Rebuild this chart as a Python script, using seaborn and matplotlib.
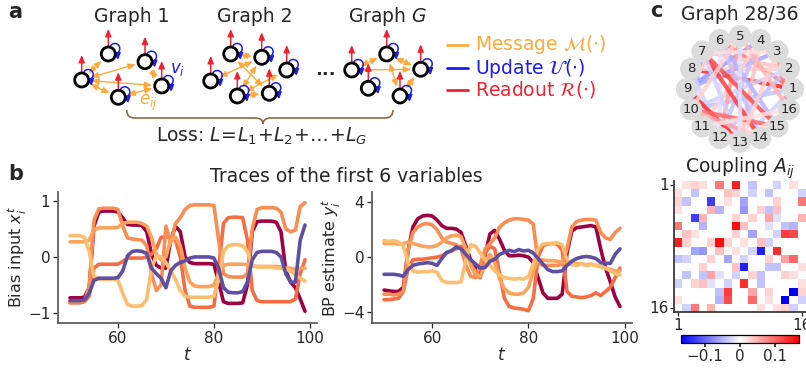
import numpy as np
import pandas as pd
import matplotlib
matplotlib.use("Agg")
import matplotlib.pyplot as plt
import seaborn as sns
from matplotlib.patches import Circle, FancyArrowPatch, PathPatch
from matplotlib.path import Path
from matplotlib.colors import Normalize

sns.set_theme(style="ticks")
plt.rcParams['font.family'] = ['DejaVu Sans']
plt.rcParams['mathtext.fontset'] = 'dejavusans'

# ---------------- data ----------------
t_steps = list(range(50, 100))
series_names = ["v1", "v2", "v3", "v4", "v5", "v6"]
series_colors = ["#9e0142", "#f46d43", "#f88e53", "#fba35c", "#fdbf6f", "#5e4fa2"]

# Bias input x_i^t
x_v1 = [-0.73,-0.73,-0.73,-0.72,-0.55,0.55,0.80,0.82,0.82,0.82,0.80,0.70,0.58,0.57,0.57,0.56,0.45,0.05,-0.15,-0.20,
        -0.20,0.30,0.55,0.45,0.00,-0.10,-0.12,-0.12,-0.12,-0.12,-0.13,-0.45,-0.80,-0.83,-0.83,-0.83,-0.82,-0.50,0.45,0.63,
        0.64,0.64,0.64,0.62,0.45,-0.25,-0.45,-0.55,-0.75,-0.97]
x_v2 = [-0.82,-0.82,-0.82,-0.80,-0.70,-0.20,-0.13,-0.13,-0.13,-0.13,-0.13,-0.08,-0.02,-0.02,-0.02,-0.02,0.00,0.05,0.15,0.35,
        0.36,0.35,0.30,0.00,-0.60,-0.88,-0.90,-0.90,-0.90,-0.90,-0.88,-0.20,0.60,0.70,0.71,0.71,0.70,0.30,-0.60,-0.78,
        -0.80,-0.80,-0.80,-0.80,-0.80,-0.80,-0.80,-0.75,-0.30,-0.05]
x_v3 = [-0.80,-0.80,-0.80,-0.79,-0.55,0.65,0.86,0.87,0.87,0.87,0.85,0.55,0.34,0.32,0.31,0.30,0.20,-0.30,-0.60,-0.50,
        0.55,0.25,0.60,0.70,0.85,0.92,0.93,0.93,0.93,0.93,0.92,0.30,-0.30,-0.35,-0.36,-0.36,-0.36,-0.30,0.50,0.85,
        0.88,0.88,0.88,0.87,0.80,0.50,0.45,0.48,0.90,0.97]
x_v4 = [0.27,0.27,0.27,0.27,0.30,0.48,0.52,0.52,0.52,0.52,0.53,0.60,0.62,0.62,0.62,0.60,0.55,0.35,0.05,-0.05,
        0.00,0.30,0.35,0.20,-0.20,-0.45,-0.52,-0.53,-0.53,-0.53,-0.50,-0.30,-0.15,-0.13,-0.13,-0.13,-0.13,-0.14,-0.16,-0.17,
        -0.17,-0.17,-0.17,-0.17,-0.18,-0.20,-0.20,-0.22,-0.20,-0.20]
x_v5 = [0.38,0.38,0.38,0.35,0.10,-0.35,-0.40,-0.40,-0.40,-0.40,-0.42,-0.65,-0.85,-0.88,-0.88,-0.87,-0.75,-0.20,0.02,0.00,
        -0.10,-0.25,-0.40,-0.60,-0.70,-0.72,-0.72,-0.72,-0.72,-0.72,-0.70,-0.40,0.10,0.20,0.22,0.22,0.20,0.10,-0.15,-0.18,
        -0.18,-0.18,-0.18,-0.20,-0.20,-0.22,-0.25,-0.32,-0.38,-0.43]
x_v6 = [-0.78,-0.78,-0.78,-0.77,-0.65,-0.42,-0.38,-0.38,-0.38,-0.38,-0.37,-0.25,0.02,0.10,0.11,0.10,0.06,-0.20,-0.30,-0.38,
        -0.55,-0.25,-0.15,-0.10,-0.07,-0.02,0.00,0.00,0.00,0.00,-0.02,-0.20,-0.55,-0.63,-0.64,-0.64,-0.62,-0.45,-0.05,0.08,
        0.10,0.10,0.10,0.08,0.00,-0.30,-0.45,-0.45,0.30,0.57]

# BP estimate y_i^t
y_v1 = [-2.40,-2.45,-2.50,-2.50,-2.20,0.50,2.20,2.80,3.00,3.05,3.00,2.70,2.30,2.10,2.10,2.05,1.80,0.80,-0.20,-0.60,
        -1.20,0.20,1.70,1.95,1.30,0.50,0.10,0.10,0.15,0.10,0.00,-0.40,-1.50,-2.60,-3.00,-3.00,-3.00,-2.70,0.30,1.90,
        2.15,2.20,2.25,2.30,2.20,0.60,-0.80,-1.80,-2.90,-3.60]
y_v2 = [-3.10,-3.10,-3.05,-3.00,-2.50,-0.80,-0.20,-0.15,-0.15,-0.10,-0.05,0.00,0.10,0.30,0.50,0.60,0.80,0.40,-0.40,-1.30,
        -1.50,0.30,0.80,0.60,-1.20,-3.00,-3.60,-3.70,-3.75,-3.80,-3.90,-3.00,0.00,0.85,0.95,1.00,0.95,0.50,-2.50,-2.85,
        -2.90,-2.95,-2.90,-2.80,-2.60,-2.80,-2.50,-2.20,-1.50,-0.80]
y_v3 = [-2.70,-2.70,-2.75,-2.70,-2.50,0.50,1.80,2.20,2.40,2.45,2.35,2.00,1.40,1.10,1.00,0.90,0.60,-0.60,-1.40,-1.50,
        -0.50,0.60,1.00,1.40,2.20,2.50,2.70,2.80,2.80,2.75,2.70,2.40,-0.40,-0.60,-0.60,-0.60,-0.60,-0.50,0.60,2.20,
        2.60,2.70,2.75,2.75,2.70,1.80,1.40,1.30,1.80,2.10]
y_v4 = [1.00,1.00,1.00,0.95,1.00,1.10,1.00,0.90,0.80,0.75,0.75,0.85,1.10,1.40,1.55,1.60,1.50,0.60,-0.60,-1.30,
        -1.40,-0.60,0.20,-0.40,-1.60,-2.30,-2.60,-2.70,-2.70,-2.60,-2.20,-1.00,-0.20,-0.20,-0.25,-0.25,-0.30,-0.35,-0.50,-0.50,
        -0.45,-0.50,-0.55,-0.50,-0.60,-0.70,-0.80,-0.90,-1.00,-1.00]
y_v5 = [1.20,1.15,1.20,1.10,0.80,-0.40,-1.00,-1.10,-1.05,-1.05,-1.00,-1.10,-1.70,-1.85,-1.85,-1.85,-1.80,-0.20,0.90,0.80,
        0.30,-0.20,-0.60,-1.00,-1.30,-1.50,-1.55,-1.60,-1.55,-1.60,-1.40,-0.50,0.60,0.95,1.00,1.00,1.05,0.90,-0.20,-0.55,
        -0.60,-0.50,-0.60,-0.55,-0.60,-0.65,-0.80,-1.00,-1.20,-1.30]
y_v6 = [-1.25,-1.25,-1.25,-1.30,-1.40,-0.90,-0.60,-0.50,-0.45,-0.40,-0.45,-0.60,-0.10,0.35,0.45,0.75,0.60,0.20,-0.20,-0.50,
        -0.80,-0.75,-0.30,-0.15,0.20,0.35,0.50,0.40,0.55,0.45,0.50,0.30,-0.10,-0.50,-0.90,-1.05,-1.05,-1.00,-0.60,-0.30,
        -0.10,0.00,0.05,0.00,-0.10,-0.40,-0.45,-0.45,0.20,0.60]

# Coupling matrix (upper triangle, 0-based indices)
pair_i = [0,0,0,0,0,0,0,0,1,1,1,1,1,1,2,2,2,3,3,3,3,3,3,4,4,4,5,5,5,5,5,6,6,6,6,6,7,7,7,8,8,8,9,9,9,10,10,10,11,11,12,13,13,14,2,2,4,4]
pair_j = [1,2,3,5,7,9,12,14,2,9,11,15,6,7,4,8,15,4,5,8,11,10,12,15,11,7,7,13,14,8,11,9,13,14,7,12,8,10,11,10,12,9,14,13,11,11,12,15,13,14,15,14,15,15,6,12,9,12]
pair_w = [0.02,0.03,0.02,0.09,0.15,-0.04,-0.03,0.02,-0.04,-0.03,-0.04,-0.03,0.04,0.03,-0.13,-0.06,0.09,0.05,-0.05,-0.07,-0.04,0.03,0.04,0.05,0.06,0.03,0.16,-0.04,-0.05,0.04,-0.02,-0.06,0.13,0.12,0.03,-0.03,0.02,0.04,-0.03,-0.15,0.14,-0.03,0.10,0.06,0.03,-0.04,-0.04,0.02,0.03,0.02,0.02,-0.17,0.03,-0.03,0.02,0.03,0.03,-0.02]
n_vars = 16
graph_title = "Graph 28/36"

# ---------------- figure ----------------
W, H = 806, 368
fig = plt.figure(figsize=(W / 100, H / 100), dpi=100)

ov = fig.add_axes([0, 0, 1, 1], zorder=-1)
ov.set_xlim(0, W)
ov.set_ylim(H, 0)
ov.axis("off")

C_MSG = "#fdaa3a"
C_UPD = "#1c1cf0"
C_RD = "#ee2233"

# ---- panel a ----
ov.text(8, 12, "a", fontsize=15, fontweight="bold", ha="left", va="center")
graphs = [
    ("Graph 1", 132, [(81.7, 80), (108.3, 54), (145, 61.7), (118.3, 97.3), (161.7, 86)],
     [(0, 1), (0, 2), (0, 4), (0, 3), (3, 4), (2, 4)]),
    ("Graph 2", 254.5, [(210.7, 81), (230.7, 54), (261.7, 57.3), (286.7, 70), (237.3, 96), (269.3, 93.3)],
     [(0, 2), (1, 2), (1, 5), (4, 2), (4, 3), (4, 5)]),
    ("Graph $G$", 388, [(351.7, 70), (386.7, 54), (368.3, 88.3), (400, 96), (420.7, 69.3)],
     [(0, 1), (0, 4), (1, 3), (3, 4), (1, 4)]),
]
for title, cx, nodes, edges in graphs:
    ov.text(cx, 16, title, fontsize=13.5, ha="center", va="center")
    for a, b in edges:
        ov.annotate("", xy=nodes[b], xytext=nodes[a],
                    arrowprops=dict(arrowstyle="<|-|>,head_length=0.35,head_width=0.15", color=C_MSG,
                                    lw=1.0, shrinkA=7, shrinkB=7))
    for (x, y) in nodes:
        ov.annotate("", xy=(x, y - 25), xytext=(x, y - 7.5),
                    arrowprops=dict(arrowstyle="-|>,head_length=0.35,head_width=0.15", color=C_RD,
                                    lw=1.1, shrinkA=0, shrinkB=0))
        cxl, cyl, r = x + 6.5, y - 5.5, 5.0
        th = np.deg2rad(np.linspace(165, -115, 30))
        pts = np.column_stack([cxl + r * np.cos(th), cyl - r * np.sin(th)])
        loop = FancyArrowPatch(path=Path(pts), arrowstyle="-|>,head_length=2.5,head_width=1.5",
                               color=C_UPD, lw=1.1, mutation_scale=1.5, zorder=4)
        ov.add_patch(loop)
        ov.add_patch(Circle((x, y), 7, fc="white", ec="black", lw=2.0, zorder=5))
ov.text(178, 69, "$v_i$", fontsize=12, color=C_UPD, ha="center", va="center")
ov.text(148, 103, "$e_{ij}$", fontsize=12, color=C_MSG, ha="center", va="center")
ov.text(325, 70, "...", fontsize=13, fontweight="bold", ha="center", va="center")

# brace
bx0, bx1, bxm, by0, by1, byt = 126.7, 393, 263, 110, 118, 124
verts = [(bx0, by0), (bx0, by1), (bx0 + 8, by1), (bxm - 8, by1), (bxm, by1), (bxm, byt),
         (bxm, by1), (bxm + 8, by1), (bx1 - 8, by1), (bx1, by1), (bx1, by0)]
codes = [Path.MOVETO, Path.CURVE3, Path.CURVE3, Path.LINETO, Path.CURVE3, Path.CURVE3,
         Path.CURVE3, Path.CURVE3, Path.LINETO, Path.CURVE3, Path.CURVE3]
ov.add_patch(PathPatch(Path(verts, codes), fc="none", ec="#8b6a45", lw=1.2))
ov.text(261.5, 136, r"Loss: $L\!=\!L_1\!+\!L_2\!+\!\ldots\!+\!L_G$", fontsize=13.5, ha="center", va="center")

# legend of panel a
for yy, col, lab in [(45, C_MSG, r"Message $\mathcal{M}(\cdot)$"),
                     (68, C_UPD, r"Update $\mathcal{U}(\cdot)$"),
                     (90, C_RD, r"Readout $\mathcal{R}(\cdot)$")]:
    ov.plot([447, 468], [yy, yy], color=col, lw=2)
    ov.text(475, yy, lab, color=col, fontsize=13.5, ha="left", va="center")

# ---- panel b ----
ov.text(8, 174, "b", fontsize=15, fontweight="bold", ha="left", va="center")
ov.text(346, 177, "Traces of the first 6 variables", fontsize=13.5, ha="center", va="center")

def long_df(vals):
    rows = []
    for name, v in zip(series_names, vals):
        for t, val in zip(t_steps, v):
            rows.append((name, t, val))
    return pd.DataFrame(rows, columns=["var", "t", "val"])

dfx = long_df([x_v1, x_v2, x_v3, x_v4, x_v5, x_v6])
dfy = long_df([y_v1, y_v2, y_v3, y_v4, y_v5, y_v6])
pal = dict(zip(series_names, series_colors))

axL = fig.add_axes([58 / W, 45 / H, 259 / W, 131 / H])
axR = fig.add_axes([372 / W, 45 / H, 260 / W, 131 / H])
for ax, df, lab, ylim, yt in [(axL, dfx, r"Bias input $x_i^t$", (-1.18, 1.16), [-1, 0, 1]),
                              (axR, dfy, r"BP estimate $y_i^t$", (-4.8, 4.75), [-4, 0, 4])]:
    sns.lineplot(data=df, x="t", y="val", hue="var", hue_order=series_names, palette=pal,
                 lw=2.6, legend=False, ax=ax)
    ax.set_ylim(*ylim)
    ax.set_xlim(47.5, 101.5)
    ax.set_yticks(yt)
    ax.set_xticks([60, 80, 100])
    ax.set_xlabel("$t$", fontsize=12, labelpad=0)
    ax.set_ylabel(lab, fontsize=11.5, labelpad=-1)
    ax.tick_params(labelsize=11, length=3.5, width=0.9, pad=2)
    sns.despine(ax=ax)
    for s in ["left", "bottom"]:
        ax.spines[s].set_color("0.35")

# ---- panel c ----
ov.text(650, 11, "c", fontsize=15, fontweight="bold", ha="left", va="center")
ov.text(740, 14, graph_title, fontsize=13.5, ha="center", va="center")

A = np.zeros((n_vars, n_vars))
for i, j, w in zip(pair_i, pair_j, pair_w):
    A[i, j] = w
    A[j, i] = w

cmap = plt.get_cmap("bwr")
norm = Normalize(-0.17, 0.17)
gcx, gcy, gr = 740, 89, 53
ang = 2 * np.pi * np.arange(n_vars) / n_vars
px = gcx + gr * np.cos(ang)
py = gcy - gr * np.sin(ang)
for i, j, w in zip(pair_i, pair_j, pair_w):
    ov.plot([px[i], px[j]], [py[i], py[j]], color=cmap(norm(w)), lw=3.0, alpha=0.85,
            solid_capstyle="butt", zorder=2)
for k in range(n_vars):
    ov.add_patch(Circle((px[k], py[k]), 11, fc="#dcdcdc", ec="none", zorder=3))
    ov.text(px[k], py[k], str(k + 1), fontsize=9.5, ha="center", va="center", zorder=4)

axH = fig.add_axes([674.2 / W, (H - 312.3) / H, 131.7 / W, 131.3 / H])
cax = fig.add_axes([681 / W, (H - 343) / H, 118 / W, 8 / H])
sns.heatmap(A, cmap="bwr", vmin=-0.17, vmax=0.17, ax=axH, cbar_ax=cax,
            cbar_kws={"orientation": "horizontal", "ticks": [-0.1, 0, 0.1]})
axH.set_xticks([0.5, n_vars - 0.5])
axH.set_xticklabels(["1", str(n_vars)], rotation=0)
axH.set_yticks([0.5, n_vars - 0.5])
axH.set_yticklabels(["1", str(n_vars)], rotation=0)
axH.tick_params(labelsize=11, length=3, width=0.9, pad=1)
for s in ["left", "bottom"]:
    axH.spines[s].set_visible(True)
    axH.spines[s].set_color("0.2")
axH.set_title(r"Coupling $A_{ij}$", fontsize=13.5, pad=6)
cax.set_xticklabels(["\u22120.1", "0", "0.1"])
cax.tick_params(labelsize=11, length=3, pad=1)
cb = axH.collections[0].colorbar
cb.outline.set_visible(True)
cb.outline.set_edgecolor("black")
cb.outline.set_linewidth(0.9)

fig.savefig("out.png", dpi=100)
